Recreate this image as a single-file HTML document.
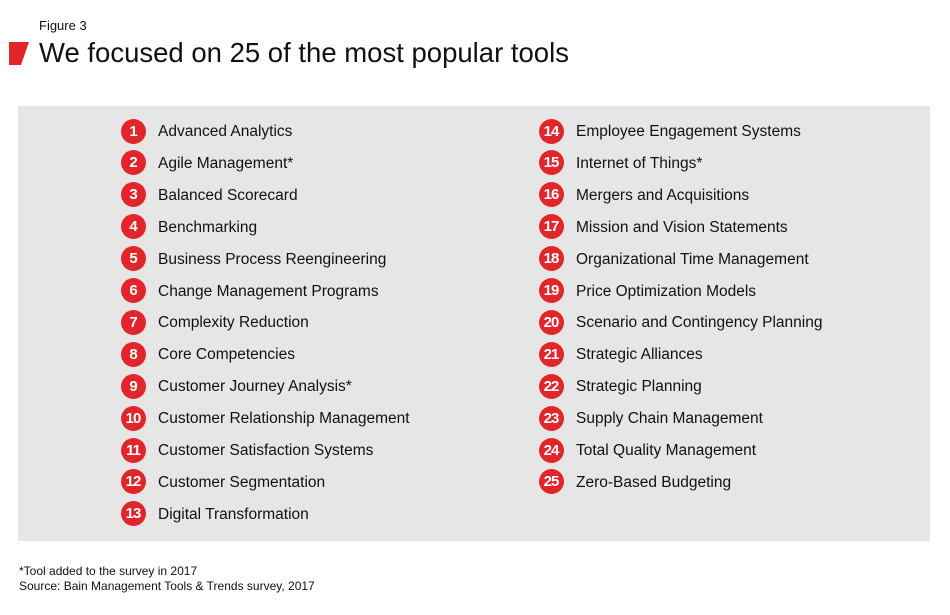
<!DOCTYPE html>
<html><head><style>
body{margin:0;width:950px;height:615px;background:#fff;font-family:"Liberation Sans",sans-serif;color:#111;position:relative;overflow:hidden}
.a{position:absolute;white-space:nowrap}
.box{position:absolute;left:18px;top:106px;width:912px;height:435px;background:#e6e6e6}
.c{position:absolute;width:25px;height:25px;border-radius:50%;background:#e0262b;color:#fff;font-weight:bold;font-size:15px;text-align:center;line-height:25px;letter-spacing:-1px}
.t{position:absolute;font-size:15.5px;line-height:20px}
</style></head><body>
<div class="a" style="left:39px;top:18px;font-size:13px">Figure 3</div>
<svg class="a" style="left:9px;top:42px" width="20" height="23"><polygon points="0,0 20,0 12,23 0,23" fill="#e0262b"/></svg>
<div class="a" style="left:39px;top:37px;font-size:27.5px">We focused on 25 of the most popular tools</div>
<div class="box"></div>
<div id="l"></div>
<div class="a" style="left:19px;top:564px;font-size:12px">*Tool added to the survey in 2017</div>
<div class="a" style="left:19px;top:579px;font-size:12px">Source: Bain Management Tools &amp; Trends survey, 2017</div>
<script>
var L=["Advanced Analytics","Agile Management*","Balanced Scorecard","Benchmarking","Business Process Reengineering","Change Management Programs","Complexity Reduction","Core Competencies","Customer Journey Analysis*","Customer Relationship Management","Customer Satisfaction Systems","Customer Segmentation","Digital Transformation","Employee Engagement Systems","Internet of Things*","Mergers and Acquisitions","Mission and Vision Statements","Organizational Time Management","Price Optimization Models","Scenario and Contingency Planning","Strategic Alliances","Strategic Planning","Supply Chain Management","Total Quality Management","Zero-Based Budgeting"];
var h="";
L.forEach(function(s,i){var col=i<13?0:1,r=col?i-13:i,cx=col?551:133,tx=col?576:158,cy=131+r*31.9;
h+='<div class="c" style="left:'+(cx-12.5)+'px;top:'+(cy-12.5)+'px">'+(i+1)+'</div><div class="t" style="left:'+tx+'px;top:'+(cy-9)+'px">'+s+'</div>';});
document.getElementById("l").innerHTML=h;
</script>
</body></html>
